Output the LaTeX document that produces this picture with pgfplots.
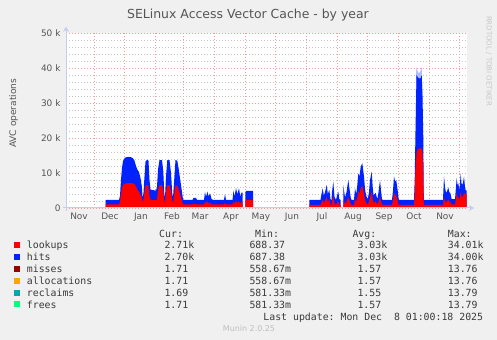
\documentclass[border=0pt]{standalone}
\usepackage{fontspec}
\setmainfont{DejaVu Sans}
\newfontfamily\monofont{DejaVu Sans Mono}
\usepackage{pgfplots}
\usepackage{pgfplotstable}
\pgfplotsset{compat=1.18}
\usetikzlibrary{arrows.meta}

\definecolor{bgC}{HTML}{F0F0F0}
\definecolor{lookC}{HTML}{FF0000}
\definecolor{hitsC}{HTML}{0022FF}
\definecolor{missC}{HTML}{990000}
\definecolor{allocC}{HTML}{FFA500}
\definecolor{reclC}{HTML}{00AAAA}
\definecolor{freeC}{HTML}{00FF80}
\definecolor{majC}{HTML}{F09A9A}
\definecolor{minC}{HTML}{C4C4C4}
\definecolor{axC}{HTML}{C4CCF4}
\definecolor{tickC}{HTML}{555555}
\definecolor{legC}{HTML}{3A3A3A}

\pgfplotstableread{
x tot red
105.5 2.3 1.0
119 2.3 1.0
120 3.5 1.8
121 8 4
122 11.5 5.8
123 13.4 6.6
125 14.4 7.0
128 14.6 7.1
131 14.5 7.1
133 14.2 7.0
134.5 13.5 6.8
136 12 6.2
137.5 10.9 5.2
139 10.3 4.6
140.5 8.5 3.8
141.7 6.5 3.0
142.7 2.6 1.5
143.5 4.5 2.5
144.5 9 4.5
145.5 13.2 6.3
147 13.8 6.6
148.5 13.5 6.3
149.5 8 3.5
150.5 5.3 2.4
153 5.1 2.3
156 5.0 2.2
157 6 2.5
158 11 5.0
159.5 13.7 6.5
162 13.7 6.5
163.3 10.5 5.0
164.3 4 2.0
165 3.0 1.5
166 9 4.5
167.3 13.7 6.5
169.5 13.7 6.5
171 10 4.8
172.3 4 2.0
173 3.0 1.5
174.3 8.5 4.0
175.5 13.7 6.5
177.3 13.5 6.3
178.5 11.5 5.5
180 8.5 4.0
181.5 5.5 2.5
183 2.5 1.1
184 2.3 1.0
192.5 2.3 1.0
193.5 2.9 1.2
196 2.9 1.2
197 2.3 1.0
204 2.3 1.0
205 4.6 1.8
206 3.2 1.3
207.5 4.7 1.9
208.5 3.3 1.3
210 4.2 1.6
211.5 2.6 1.0
213 2.3 1.0
224 2.3 1.0
225 4.0 1.5
226 2.3 1.0
232.5 2.3 1.0
233.5 5.0 1.8
234.5 3.2 1.2
236 5.7 2.0
237.3 4.0 1.5
239 5.6 2.0
240.3 3.2 1.2
241.5 4.4 1.8
242.7 4.4 1.8
}\segA

\pgfplotstableread{
x tot red
245.3 4.4 2.2
246 4.9 2.3
253 4.9 2.3
}\segB

\pgfplotstableread{
x tot red
309.3 2.3 0.9
320.5 2.3 0.9
321.5 4 1.5
322.7 5.6 2.4
323.8 3.5 1.4
325 4.5 2.0
326.7 6.6 3.2
327.8 4 1.6
329.3 5.2 2.5
330.5 2.5 1.0
331.5 2.3 0.9
332 4.5 1.8
333.3 7.5 3.4
334.5 3.2 1.3
336 2.3 0.9
337 3.5 1.4
338.3 4.7 2.0
339.3 2.5 1.0
340.7 2.3 0.9
}\segC

\pgfplotstableread{
x tot red
343.3 6.6 2.5
344 5 2
345 3 1.2
346.5 4.5 1.8
348.3 8 3.2
349.5 5.5 2.2
350.7 3 1.2
351.5 2.3 0.9
354 2.3 0.9
355 5.6 2.5
356.3 4 1.8
357.3 6.5 3
358.3 9.9 4.6
359.5 9 4.2
360.7 11.8 5.6
362.3 12.8 6.4
364 9 4.0
365 5.5 2.4
366 3.7 1.5
367.7 2.5 1.0
369 4.5 1.8
370 8 3.0
371.7 10.4 4.6
372.7 6 2.5
373.5 3.7 1.5
375.7 4.3 1.8
377.3 2.5 1.0
378.5 4.5 1.8
380 8 3.2
381 5 2
382 2.5 1
383 2.3 0.9
392 2.3 0.9
393 5 2.2
394 9 4.2
395.2 7.5 3.8
396.2 8 3.5
397.7 5 2.0
398.7 2.5 1.0
399.3 2.3 0.9
414 2.3 0.9
414.7 8 4
415.5 22 11
416.5 38 15.6
417.5 37.5 16.7
419 37 17
420.5 37 17
421.7 38 17
422.5 32 15.6
423.3 20 10
423.8 2.3 0.9
443 2.3 0.9
444 9 3.2
445 6 2
446 4.3 1.5
447.3 5 2
448.3 5.9 2.5
449.3 4.5 1.8
450.3 4.3 1.8
451.7 2.5 1.0
455 2.5 1.0
456 6 2.8
456.7 8.5 4.3
457.6 6.5 3.2
458.3 7 3
459.5 5 2.5
460.7 9.9 4.6
461.5 7 3.5
462.3 6.6 3
463.2 7.5 3.5
464 9 4.3
465 6 4
465.7 5 4
466.5 5 4
}\segD

% peak (max) of hits around the October spike, drawn lighter
\pgfplotstableread{
x top
415.8 30
416.3 40.4
417.5 39.2
419 38.4
420.5 39.2
421.7 40.4
422.4 34
}\segMax

\begin{document}
\begin{tikzpicture}
\fill[bgC] (0bp,0bp) rectangle (497bp,340bp);
\path[use as bounding box] (0bp,0bp) rectangle (497bp,340bp);

\begin{axis}[
  at={(66bp,132bp)}, anchor=south west,
  scale only axis, width=401bp, height=175bp,
  xmin=66, xmax=467, ymin=0, ymax=50,
  clip=false,
  axis background/.style={fill=white},
  axis line style={draw=none},
  tick style={draw=none},
  major tick length=0pt, minor tick length=0pt,
  xtick={94,124,155,183,214,245,275,306,337,367,398,429,459},
  xticklabels={},
  extra x ticks={79,110,141,172,200,231,261,292,322,353,384,414,445},
  extra x tick labels={Nov,Dec,Jan,Feb,Mar,Apr,May,Jun,Jul,Aug,Sep,Oct,Nov},
  extra x tick style={grid=none},
  ytick={0,10,20,30,40,50},
  yticklabels={0,10 k,20 k,30 k,40 k,50 k},
  minor y tick num=4,
  xmajorgrids=true, ymajorgrids=true, yminorgrids=true,
  major grid style={majC, line width=0.8bp, dash pattern=on 1bp off 2bp},
  minor grid style={minC, line width=0.8bp, dash pattern=on 1bp off 2bp},
  tick label style={font=\fontsize{9}{10}\selectfont, text=tickC},
  xticklabel style={yshift=-1bp},
  yticklabel style={xshift=-2bp},
]
\addplot[fill=hitsC!30, draw=none] table[x=x,y=top] {\segMax} \closedcycle;
\addplot[fill=hitsC, draw=none] table[x=x,y=tot] {\segA} \closedcycle;
\addplot[fill=lookC, draw=none] table[x=x,y=red] {\segA} \closedcycle;
\addplot[fill=hitsC, draw=none] table[x=x,y=tot] {\segB} \closedcycle;
\addplot[fill=lookC, draw=none] table[x=x,y=red] {\segB} \closedcycle;
\addplot[fill=hitsC, draw=none] table[x=x,y=tot] {\segC} \closedcycle;
\addplot[fill=lookC, draw=none] table[x=x,y=red] {\segC} \closedcycle;
\addplot[fill=hitsC, draw=none] table[x=x,y=tot] {\segD} \closedcycle;
\addplot[fill=lookC, draw=none] table[x=x,y=red] {\segD} \closedcycle;
\draw[axC, line width=1bp, -{Stealth[length=5bp,width=6bp]}] (axis cs:63,0) -- (axis cs:474,0);
\draw[axC, line width=1bp, -{Stealth[length=5bp,width=6bp]}] (axis cs:66,-0.8) -- (axis cs:66,51.8);
\end{axis}

% title and labels
\node[anchor=base, text=tickC, font=\fontsize{12.5}{14}\selectfont] at (248bp,321.7bp) {SELinux Access Vector Cache - by year};
\node[anchor=base, rotate=90, text=tickC, font=\fontsize{9.1}{10}\selectfont] at (16bp,226.7bp) {AVC operations};
\node[anchor=center, rotate=-90, text=black!22, font=\fontsize{7}{8}\selectfont] at (489bp,279bp) {RRDTOOL / TOBI OETIKER};

% legend
\begin{scope}[every node/.style={text=legC, inner sep=0pt, font=\monofont\fontsize{9.9}{11}\selectfont}]
\node[anchor=base west] at (159bp,102.9bp) {Cur:};
\node[anchor=base west] at (255bp,102.9bp) {Min:};
\node[anchor=base west] at (352.3bp,102.9bp) {Avg:};
\node[anchor=base west] at (447.7bp,102.9bp) {Max:};
\foreach \c/\n/\cu/\mi/\av/\ma [count=\i from 0] in {
  lookC/lookups/2.71k/688.37/3.03k/34.01k,
  hitsC/hits/2.70k/687.38/3.03k/34.00k,
  missC/misses/1.71/558.67m/1.57/13.76,
  allocC/allocations/1.71/558.67m/1.57/13.76,
  reclC/reclaims/1.69/581.33m/1.55/13.79,
  freeC/frees/1.71/581.33m/1.57/13.79}{
  \pgfmathsetmacro{\yb}{91-11.9*\i}
  \fill[\c] (14bp,\yb bp+1bp) rectangle (20bp,\yb bp+7bp);
  \node[anchor=base west] at (26.7bp,\yb bp) {\n};
  \node[anchor=base west] at (164.3bp,\yb bp) {\cu};
  \node[anchor=base west] at (249.3bp,\yb bp) {\mi};
  \node[anchor=base west] at (357.3bp,\yb bp) {\av};
  \node[anchor=base west] at (447.7bp,\yb bp) {\ma};
}
\node[anchor=base east] at (483.3bp,19.3bp) {Last update:\ Mon Dec\ \ 8 01:00:18 2025};
\end{scope}
\node[anchor=base, inner sep=0pt, text=black!25, font=\fontsize{8}{9}\selectfont] at (249bp,8.3bp) {Munin 2.0.25};
\end{tikzpicture}
\end{document}
